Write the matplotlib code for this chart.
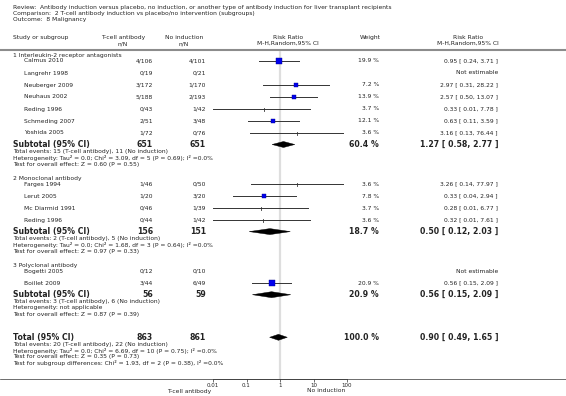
import numpy as np
import matplotlib
matplotlib.use("Agg")
import matplotlib.pyplot as plt
from matplotlib.patches import Polygon

# ---------------- data ----------------
title_lines = [
    "Review:  Antibody induction versus placebo, no induction, or another type of antibody induction for liver transplant recipients",
    "Comparison:  2 T-cell antibody induction vs placebo/no intervention (subgroups)",
    "Outcome:  8 Malignancy",
]
group_names = ["1 Interleukin-2 receptor antagonists", "2 Monoclonal antibody", "3 Polyclonal antibody"]

g1_studies = ["Calmus 2010", "Langrehr 1998", "Neuberger 2009", "Neuhaus 2002", "Reding 1996", "Schmeding 2007", "Yoshida 2005"]
g1_tcell = ["4/106", "0/19", "3/172", "5/188", "0/43", "2/51", "1/72"]
g1_noind = ["4/101", "0/21", "1/170", "2/193", "1/42", "3/48", "0/76"]
g1_rr = [0.95, np.nan, 2.97, 2.57, 0.33, 0.63, 3.16]
g1_lo = [0.24, np.nan, 0.31, 0.50, 0.01, 0.11, 0.13]
g1_hi = [3.71, np.nan, 28.22, 13.07, 7.78, 3.59, 76.44]
g1_w = [19.9, np.nan, 7.2, 13.9, 3.7, 12.1, 3.6]

g2_studies = ["Farges 1994", "Lerut 2005", "Mc Diarmid 1991", "Reding 1996"]
g2_tcell = ["1/46", "1/20", "0/46", "0/44"]
g2_noind = ["0/50", "3/20", "1/39", "1/42"]
g2_rr = [3.26, 0.33, 0.28, 0.32]
g2_lo = [0.14, 0.04, 0.01, 0.01]
g2_hi = [77.97, 2.94, 6.77, 7.61]
g2_w = [3.6, 7.8, 3.7, 3.6]

g3_studies = ["Bogetti 2005", "Boillet 2009"]
g3_tcell = ["0/12", "3/44"]
g3_noind = ["0/10", "6/49"]
g3_rr = [np.nan, 0.56]
g3_lo = [np.nan, 0.15]
g3_hi = [np.nan, 2.09]
g3_w = [np.nan, 20.9]

sub_n1 = [651, 156, 56]
sub_n2 = [651, 151, 59]
sub_rr = [1.27, 0.50, 0.56]
sub_lo = [0.58, 0.12, 0.15]
sub_hi = [2.77, 2.03, 2.09]
sub_w = [60.4, 18.7, 20.9]
sub_notes = [
    ["Total events: 15 (T-cell antibody), 11 (No induction)",
     "Heterogeneity: Tau\u00b2 = 0.0; Chi\u00b2 = 3.09, df = 5 (P = 0.69); I\u00b2 =0.0%",
     "Test for overall effect: Z = 0.60 (P = 0.55)"],
    ["Total events: 2 (T-cell antibody), 5 (No induction)",
     "Heterogeneity: Tau\u00b2 = 0.0; Chi\u00b2 = 1.68, df = 3 (P = 0.64); I\u00b2 =0.0%",
     "Test for overall effect: Z = 0.97 (P = 0.33)"],
    ["Total events: 3 (T-cell antibody), 6 (No induction)",
     "Heterogeneity: not applicable",
     "Test for overall effect: Z = 0.87 (P = 0.39)"],
]

tot_n1, tot_n2 = 863, 861
tot_rr, tot_lo, tot_hi, tot_w = 0.90, 0.49, 1.65, 100.0
tot_notes = [
    "Total events: 20 (T-cell antibody), 22 (No induction)",
    "Heterogeneity: Tau\u00b2 = 0.0; Chi\u00b2 = 6.69, df = 10 (P = 0.75); I\u00b2 =0.0%",
    "Test for overall effect: Z = 0.35 (P = 0.73)",
    "Test for subgroup differences: Chi\u00b2 = 1.93, df = 2 (P = 0.38), I\u00b2 =0.0%",
]
tick_vals = [0.01, 0.1, 1, 10, 100]
tick_labels = ["0.01", "0.1", "1", "10", "100"]
left_label, right_label = "T-cell antibody", "No induction"

groups = [
    (g1_studies, g1_tcell, g1_noind, g1_rr, g1_lo, g1_hi, g1_w),
    (g2_studies, g2_tcell, g2_noind, g2_rr, g2_lo, g2_hi, g2_w),
    (g3_studies, g3_tcell, g3_noind, g3_rr, g3_lo, g3_hi, g3_w),
]

# ---------------- layout ----------------
W, H = 566, 396
fig = plt.figure(figsize=(W / 100, H / 100), dpi=100)
bg = fig.add_axes([0, 0, 1, 1])
bg.set_xlim(0, W)
bg.set_ylim(H, 0)
bg.axis("off")

PX0, PX1 = 213, 347  # pixel x of 0.01 and 100
AXY = 379
fa = fig.add_axes([PX0 / W, 0, (PX1 - PX0) / W, 1], facecolor="none")
fa.set_xscale("log")
fa.set_xlim(0.01, 100)
fa.set_ylim(H, 0)
for side in ["top", "left", "right"]:
    fa.spines[side].set_visible(False)
fa.spines["bottom"].set_position(("data", AXY))
fa.spines["bottom"].set_color("#333333")
fa.spines["bottom"].set_linewidth(0.5)
fa.set_yticks([])
fa.set_xticks(tick_vals, tick_labels)
fa.xaxis.set_minor_locator(matplotlib.ticker.NullLocator())
fa.tick_params(axis="x", length=2, width=0.5, color="#333333", labelsize=4.0,
               labelcolor="#222222", pad=1)

TC = "#222222"
FS = 4.3
FSB = 5.6
X_STUDY_G = 13
X_STUDY = 24
X_N1 = 153
X_N2 = 206
X_W = 379
X_RR = 498

def t(x, y, s, ha="left", fs=FS, bold=False):
    bg.text(x, y, s, ha=ha, va="center", fontsize=fs, color=TC,
            fontweight="bold" if bold else "normal", family="DejaVu Sans")

# title
for i, line in enumerate(title_lines):
    t(X_STUDY_G, 7.5 + 6.0 * i, line)

# header
t(X_STUDY_G, 37.5, "Study or subgroup")
t(123, 37.5, "T-cell antibody", ha="center")
t(123, 43.5, "n/N", ha="center")
t(184, 37.5, "No induction", ha="center")
t(184, 43.5, "n/N", ha="center")
t(288, 37.5, "Risk Ratio", ha="center")
t(288, 43.5, "M-H,Random,95% CI", ha="center")
t(370, 37.5, "Weight", ha="center")
t(468, 37.5, "Risk Ratio", ha="center")
t(468, 43.5, "M-H,Random,95% CI", ha="center")
bg.plot([0, W], [49.5, 49.5], color="#8c8c8c", lw=1.5, solid_capstyle="butt")

# reference line at 1
fa.plot([1, 1], [50.5, AXY], color="#dedede", lw=1.6, zorder=0, solid_capstyle="butt")

def square(rr, y, w):
    if w < 5:
        fa.plot([rr, rr], [y - 1.5, y + 1.5], color="#333333", lw=0.6, zorder=3)
    else:
        side = 1.8 + 0.8 * np.sqrt(w)
        fa.plot([rr], [y], marker="s", ms=side * 0.72, mfc="#0000ee",
                mec="#00008b", mew=0.3, zorder=3)

def diamond(rr, lo, hi, y, h=3.0):
    fa.add_patch(Polygon([[lo, y], [rr, y - h], [hi, y], [rr, y + h]],
                         closed=True, fc="black", ec="black", lw=0.3, zorder=3))

def fmt(rr, lo, hi):
    return "%.2f [ %.2f, %.2f ]" % (rr, lo, hi)

y = 55.0
for gi, (names, n1, n2, rr, lo, hi, w) in enumerate(groups):
    t(X_STUDY_G, y, group_names[gi])
    y += 6
    for j in range(len(names)):
        t(X_STUDY, y, names[j])
        t(X_N1, y, n1[j], ha="right")
        t(X_N2, y, n2[j], ha="right")
        if np.isnan(rr[j]):
            t(X_RR, y, "Not estimable", ha="right")
        else:
            fa.plot([lo[j], hi[j]], [y, y], color="#333333", lw=0.7, zorder=2)
            square(rr[j], y, w[j])
            t(X_W, y, "%.1f %%" % w[j], ha="right")
            t(X_RR, y, fmt(rr[j], lo[j], hi[j]), ha="right")
        y += 12
    y -= 0.5
    t(X_STUDY_G, y, "Subtotal (95% CI)", fs=FSB, bold=True)
    t(X_N1, y, str(sub_n1[gi]), ha="right", fs=FSB, bold=True)
    t(X_N2, y, str(sub_n2[gi]), ha="right", fs=FSB, bold=True)
    t(X_W, y, "%.1f %%" % sub_w[gi], ha="right", fs=FSB, bold=True)
    t(X_RR, y, fmt(sub_rr[gi], sub_lo[gi], sub_hi[gi]), ha="right", fs=FSB, bold=True)
    diamond(sub_rr[gi], sub_lo[gi], sub_hi[gi], y)
    y += 7
    for k, note in enumerate(sub_notes[gi]):
        t(X_STUDY_G, y + 6.3 * k, note)
    y += 6.3 * 2 + 14

y += 9
t(X_STUDY_G, y, "Total (95% CI)", fs=FSB, bold=True)
t(X_N1, y, str(tot_n1), ha="right", fs=FSB, bold=True)
t(X_N2, y, str(tot_n2), ha="right", fs=FSB, bold=True)
t(X_W, y, "%.1f %%" % tot_w, ha="right", fs=FSB, bold=True)
t(X_RR, y, fmt(tot_rr, tot_lo, tot_hi), ha="right", fs=FSB, bold=True)
diamond(tot_rr, tot_lo, tot_hi, y)
y += 7
for k, note in enumerate(tot_notes):
    t(X_STUDY_G, y + 6.3 * k, note)

# full-width axis rule
bg.plot([0, W], [AXY, AXY], color="#333333", lw=0.5)
t(189, 391, left_label, ha="center")
t(326, 391, right_label, ha="center")

fig.savefig("out.png", dpi=100)
